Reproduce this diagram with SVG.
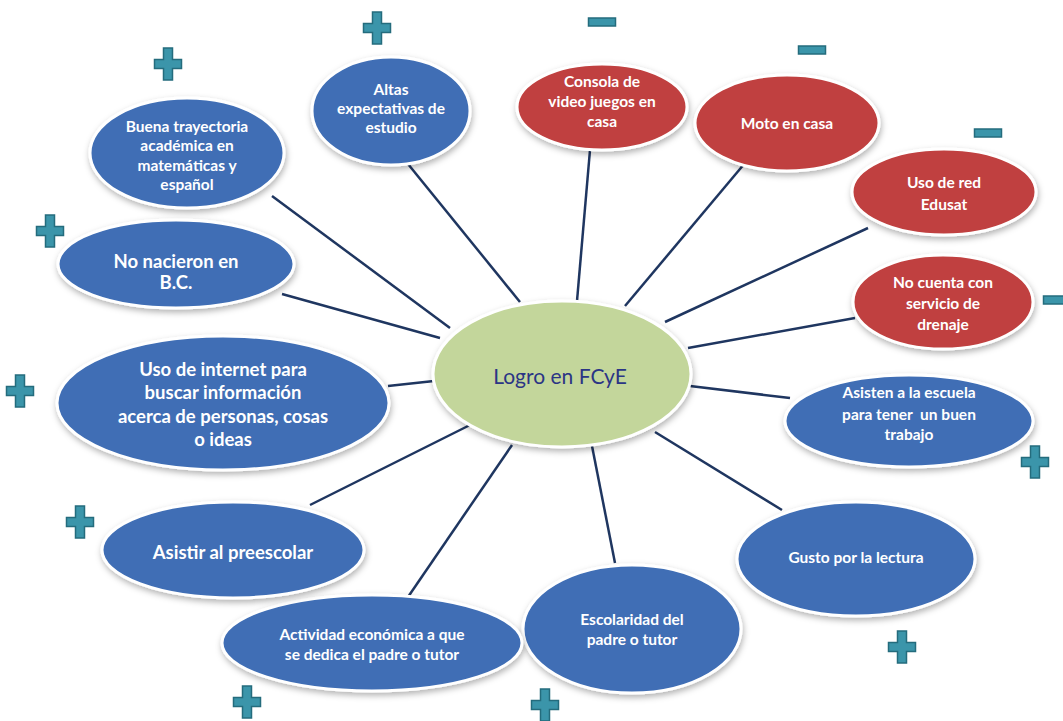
<svg xmlns="http://www.w3.org/2000/svg" width="1063" height="721" viewBox="0 0 1063 721">
  <defs>
    <filter id="shadow" x="-20%" y="-20%" width="140%" height="150%">
      <feDropShadow dx="1" dy="3" stdDeviation="3" flood-color="#000" flood-opacity="0.3"/>
    </filter>
    <style>
      .link { stroke: #1f3660; stroke-width: 2.5; fill: none; }
      .blue { fill: #3f6eb5; stroke: #ffffff; stroke-width: 3; filter: url(#shadow); }
      .red { fill: #c0403f; stroke: #ffffff; stroke-width: 3; filter: url(#shadow); }
      .core { fill: #c3d69b; stroke: #ffffff; stroke-width: 3; filter: url(#shadow); }
      .lbl { font-family: Lato, "Open Sans", "Liberation Sans", sans-serif; font-weight: bold; fill: #ffffff; text-anchor: middle; font-size: 15.5px; }
      .big { font-size: 18.5px; }
      .core-lbl { font-family: Lato, "Open Sans", "Liberation Sans", sans-serif; fill: #2b3585; text-anchor: middle; font-size: 21px; }
      .sign { fill: #3b95aa; stroke: #246c7d; stroke-width: 1.5; }
    </style>
  </defs>

  <rect width="1063" height="721" fill="#ffffff"/>

  <!-- connectors from the central idea to each factor -->
  <g id="connectors">
    <line class="link" x1="272" y1="196" x2="450" y2="328"/>
    <line class="link" x1="408" y1="164" x2="520" y2="302"/>
    <line class="link" x1="590" y1="150" x2="577" y2="301"/>
    <line class="link" x1="745" y1="163" x2="625" y2="306"/>
    <line class="link" x1="868" y1="228" x2="665" y2="322"/>
    <line class="link" x1="855" y1="318" x2="688" y2="348"/>
    <line class="link" x1="790" y1="398" x2="690" y2="386"/>
    <line class="link" x1="782" y1="510" x2="655" y2="432"/>
    <line class="link" x1="615" y1="563" x2="592" y2="446"/>
    <line class="link" x1="408" y1="597" x2="512" y2="445"/>
    <line class="link" x1="310" y1="505" x2="470" y2="425"/>
    <line class="link" x1="388" y1="386" x2="434" y2="381"/>
    <line class="link" x1="282" y1="294" x2="440" y2="338"/>
  </g>

  <g id="n-buena">
    <ellipse class="blue" cx="187" cy="153" rx="97" ry="55"/>
    <text class="lbl" x="187" y="132">Buena trayectoria</text>
    <text class="lbl" x="187" y="151">académica en</text>
    <text class="lbl" x="187" y="171">matemáticas y</text>
    <text class="lbl" x="187" y="190">español</text>
  </g>

  <g id="n-altas">
    <ellipse class="blue" cx="391" cy="111" rx="79" ry="54"/>
    <text class="lbl" x="391" y="95">Altas</text>
    <text class="lbl" x="391" y="114">expectativas de</text>
    <text class="lbl" x="391" y="133">estudio</text>
  </g>

  <g id="n-consola">
    <ellipse class="red" cx="602" cy="107" rx="85" ry="43"/>
    <text class="lbl" x="602" y="87">Consola de</text>
    <text class="lbl" x="602" y="107">video juegos en</text>
    <text class="lbl" x="602" y="127">casa</text>
  </g>

  <g id="n-moto">
    <ellipse class="red" cx="787" cy="123" rx="92" ry="48"/>
    <text class="lbl" x="787" y="129">Moto en casa</text>
  </g>

  <g id="n-edusat">
    <ellipse class="red" cx="944" cy="192" rx="92" ry="43"/>
    <text class="lbl" x="944" y="188">Uso de red</text>
    <text class="lbl" x="944" y="210">Edusat</text>
  </g>

  <g id="n-drenaje">
    <ellipse class="red" cx="943" cy="302" rx="90" ry="47"/>
    <text class="lbl" x="943" y="288">No cuenta con</text>
    <text class="lbl" x="943" y="309">servicio de</text>
    <text class="lbl" x="943" y="330">drenaje</text>
  </g>

  <g id="n-asisten">
    <ellipse class="blue" cx="909" cy="421" rx="124" ry="46"/>
    <text class="lbl" x="909" y="398">Asisten a la escuela</text>
    <text class="lbl" x="909" y="420" xml:space="preserve">para tener  un buen</text>
    <text class="lbl" x="909" y="440">trabajo</text>
  </g>

  <g id="n-gusto">
    <ellipse class="blue" cx="856" cy="559" rx="119" ry="57"/>
    <text class="lbl" x="856" y="563">Gusto por la lectura</text>
  </g>

  <g id="n-escolaridad">
    <ellipse class="blue" cx="632" cy="629" rx="109" ry="64"/>
    <text class="lbl" x="632" y="625">Escolaridad del</text>
    <text class="lbl" x="632" y="645">padre o tutor</text>
  </g>

  <g id="n-actividad">
    <ellipse class="blue" cx="372" cy="643" rx="150" ry="48"/>
    <text class="lbl" x="372" y="640">Actividad económica a que</text>
    <text class="lbl" x="372" y="660">se dedica el padre o tutor</text>
  </g>

  <g id="n-preescolar">
    <ellipse class="blue" cx="233" cy="550" rx="131" ry="48"/>
    <text class="lbl big" x="233" y="559">Asistir al preescolar</text>
  </g>

  <g id="n-internet">
    <ellipse class="blue" cx="223" cy="403" rx="166" ry="67"/>
    <text class="lbl big" x="223" y="376">Uso de internet para</text>
    <text class="lbl big" x="223" y="399">buscar información</text>
    <text class="lbl big" x="223" y="423">acerca de personas, cosas</text>
    <text class="lbl big" x="223" y="446">o ideas</text>
  </g>

  <g id="n-nacieron">
    <ellipse class="blue" cx="176" cy="264" rx="118" ry="44"/>
    <text class="lbl big" x="176" y="268">No nacieron en</text>
    <text class="lbl big" x="176" y="289">B.C.</text>
  </g>

  <g id="n-logro">
    <ellipse class="core" cx="562" cy="374" rx="129" ry="73"/>
    <text class="core-lbl" x="560" y="384">Logro en FCyE</text>
  </g>

  <!-- positive / negative association signs -->
  <defs>
    <path id="plus" d="M-4.5,-16 h9 v11.5 h9 v9 h-9 v11.5 h-9 v-11.5 h-9 v-9 h9 z"/>
    <rect id="minus" x="-13.5" y="-4" width="27" height="8"/>
  </defs>
  <g id="signs">
    <use href="#plus" class="sign" x="377" y="28"/>
    <use href="#plus" class="sign" x="168" y="64"/>
    <use href="#plus" class="sign" x="50" y="231"/>
    <use href="#plus" class="sign" x="20" y="391"/>
    <use href="#plus" class="sign" x="80" y="522"/>
    <use href="#plus" class="sign" x="247" y="702"/>
    <use href="#plus" class="sign" x="545" y="705"/>
    <use href="#plus" class="sign" x="902" y="647"/>
    <use href="#plus" class="sign" x="1035" y="462"/>
    <use href="#minus" class="sign" x="602" y="22"/>
    <use href="#minus" class="sign" x="812" y="50"/>
    <use href="#minus" class="sign" x="988" y="133"/>
    <use href="#minus" class="sign" x="1057" y="300"/>
  </g>
</svg>
